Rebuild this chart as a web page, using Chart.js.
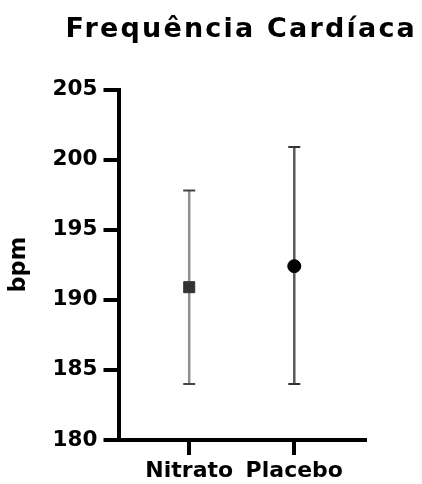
<!DOCTYPE html>
<html>
<head>
<meta charset="utf-8">
<script src="https://cdn.jsdelivr.net/npm/chart.js@4"></script>
<style>
html,body{margin:0;padding:0;background:#fff;}
#wrap{width:422px;height:484px;position:relative;}
</style>
</head>
<body>
<div id="wrap"><canvas id="c"></canvas></div>
<script>
const titleText = 'Frequência Cardíaca';
const yAxisTitle = 'bpm';
const categories = ['Nitrato', 'Placebo'];
const means = [190.9, 192.4];
const upper = [197.8, 200.9];
const lower = [184.0, 184.0];
const yTicks = [180, 185, 190, 195, 200, 205];

const FONT = "'DejaVu Sans', 'Liberation Sans', Arial, sans-serif";

const titleSpacingPlugin = {
  id: 'titleSpacing',
  beforeDraw(chart) {
    const tb = chart.titleBlock;
    if (tb && !tb._wrapped) {
      tb._wrapped = true;
      const proto = Object.getPrototypeOf(tb);
      tb.draw = function () {
        const ctx = this.ctx;
        const prev = ctx.letterSpacing;
        ctx.letterSpacing = '2.2px';
        proto.draw.call(this);
        ctx.letterSpacing = prev;
      };
    }
  }
};

const xOf = i => i + 1;

const datasets = [
  {
    label: categories[0] + ' média',
    data: [{ x: xOf(0), y: means[0] }],
    pointStyle: 'rect',
    pointRadius: 7.8,
    backgroundColor: '#333333',
    borderColor: '#333333',
    borderWidth: 1,
    showLine: false
  },
  {
    label: categories[1] + ' média',
    data: [{ x: xOf(1), y: means[1] }],
    pointStyle: 'circle',
    pointRadius: 6.5,
    backgroundColor: '#000000',
    borderColor: '#000000',
    borderWidth: 1,
    showLine: false
  },
  {
    label: categories[0] + ' erro',
    data: [{ x: xOf(0), y: lower[0] }, { x: xOf(0), y: upper[0] }],
    showLine: true,
    borderColor: '#8f8f8f',
    borderWidth: 2.5,
    pointStyle: 'line',
    pointRadius: 6,
    pointBorderColor: '#444444',
    pointBorderWidth: 2
  },
  {
    label: categories[1] + ' erro',
    data: [{ x: xOf(1), y: lower[1] }, { x: xOf(1), y: upper[1] }],
    showLine: true,
    borderColor: '#5a5a5a',
    borderWidth: 2.5,
    pointStyle: 'line',
    pointRadius: 6,
    pointBorderColor: '#333333',
    pointBorderWidth: 2
  }
];

new Chart(document.getElementById('c'), {
  type: 'scatter',
  data: { datasets },
  plugins: [titleSpacingPlugin],
  options: {
    responsive: true,
    maintainAspectRatio: false,
    animation: false,
    events: [],
    layout: { padding: { left: 0, right: 5, top: 0, bottom: 0 } },
    plugins: {
      legend: { display: false },
      tooltip: { enabled: false },
      title: {
        display: true,
        text: titleText,
        align: 'end',
        color: '#000',
        font: { family: FONT, size: 27, weight: 'bold', lineHeight: 1.2 },
        padding: { top: 13.8, bottom: 43.3 }
      }
    },
    scales: {
      x: {
        type: 'linear',
        position: 'bottom',
        min: 0.327,
        max: 2.673,
        afterBuildTicks: s => { s.ticks = categories.map((c, i) => ({ value: xOf(i) })); },
        afterFit: s => { s.height = 44; },
        grid: {
          display: true, drawOnChartArea: false, drawTicks: true,
          tickLength: 15, tickWidth: 4, tickColor: '#000', lineWidth: 4, color: '#000'
        },
        border: { display: true, width: 4, color: '#000' },
        ticks: {
          color: '#000',
          padding: 3,
          maxRotation: 0,
          autoSkip: false,
          font: { family: FONT, size: 22, weight: 'bold', lineHeight: 1.2 },
          callback: v => categories[Math.round(v) - 1] || ''
        }
      },
      y: {
        type: 'linear',
        position: 'left',
        min: 180,
        max: 205,
        afterBuildTicks: s => { s.ticks = yTicks.map(v => ({ value: v })); },
        afterFit: s => { s.width = 118.5; },
        grid: {
          display: true, drawOnChartArea: false, drawTicks: true,
          tickLength: 15, tickWidth: 4, tickColor: '#000', lineWidth: 4, color: '#000'
        },
        border: { display: true, width: 4, color: '#000' },
        ticks: {
          color: '#000',
          padding: 6,
          font: { family: FONT, size: 21.5, weight: 'bold', lineHeight: 1.2 }
        },
        title: {
          display: true,
          text: yAxisTitle,
          color: '#000',
          font: { family: FONT, size: 22.5, weight: 'bold', lineHeight: 1.2 },
          padding: { top: 6.1, bottom: 0 }
        }
      },
      yR: {
        type: 'linear',
        position: 'right',
        display: true,
        grid: { display: false },
        border: { display: false },
        ticks: { display: false },
        afterFit: s => { s.width = 52; }
      }
    }
  }
});
</script>
</body>
</html>
